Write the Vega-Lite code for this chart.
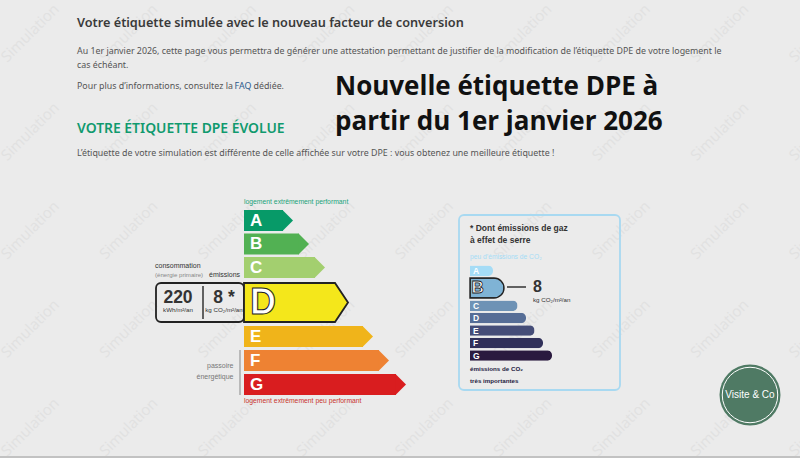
{
  "$schema": "https://vega.github.io/schema/vega-lite/v6.json",
  "description": "Nouvelle étiquette DPE à partir du 1er janvier 2026",
  "width": 800,
  "height": 458,
  "autosize": {"type": "none"},
  "padding": 0,
  "background": "#ebebeb",
  "config": {"view": {"stroke": null}},
  "datasets": {
    "filigrane": [
      {"c":0,"l":0},{"c":1,"l":0},{"c":2,"l":0},{"c":3,"l":0},{"c":4,"l":0},{"c":5,"l":0},{"c":6,"l":0},{"c":7,"l":0},{"c":8,"l":0},
      {"c":0,"l":1},{"c":1,"l":1},{"c":2,"l":1},{"c":3,"l":1},{"c":4,"l":1},{"c":5,"l":1},{"c":6,"l":1},{"c":7,"l":1},{"c":8,"l":1},
      {"c":0,"l":2},{"c":1,"l":2},{"c":2,"l":2},{"c":3,"l":2},{"c":4,"l":2},{"c":5,"l":2},{"c":6,"l":2},{"c":7,"l":2},{"c":8,"l":2},
      {"c":0,"l":3},{"c":1,"l":3},{"c":2,"l":3},{"c":3,"l":3},{"c":4,"l":3},{"c":5,"l":3},{"c":6,"l":3},{"c":7,"l":3},{"c":8,"l":3},
      {"c":0,"l":4},{"c":1,"l":4},{"c":2,"l":4},{"c":3,"l":4},{"c":4,"l":4},{"c":5,"l":4},{"c":6,"l":4},{"c":7,"l":4},{"c":8,"l":4}
    ],
    "energie": [
      {"classe":"A","rang":0,"corps":39},
      {"classe":"B","rang":1,"corps":55},
      {"classe":"C","rang":2,"corps":71},
      {"classe":"D","rang":3,"corps":91},
      {"classe":"E","rang":4,"corps":119},
      {"classe":"F","rang":5,"corps":135},
      {"classe":"G","rang":6,"corps":152}
    ],
    "climat": [
      {"classe":"A","rang":0,"longueur":23},
      {"classe":"B","rang":1,"longueur":34},
      {"classe":"C","rang":2,"longueur":47.5},
      {"classe":"D","rang":3,"longueur":56},
      {"classe":"E","rang":4,"longueur":64.5},
      {"classe":"F","rang":5,"longueur":73},
      {"classe":"G","rang":6,"longueur":82}
    ],
    "textes": [
      {"groupe":"titre","colonne":1,"ligne":0,"texte":"Votre étiquette simulée avec le nouveau facteur de conversion"},
      {"groupe":"corps","colonne":1,"ligne":1,"texte":"Au 1er janvier 2026, cette page vous permettra de générer une attestation permettant de justifier de la modification de l’étiquette DPE de votre logement le"},
      {"groupe":"corps","colonne":1,"ligne":2,"texte":"cas échéant."},
      {"groupe":"corps","colonne":1,"ligne":3,"texte":"Pour plus d’informations, consultez la"},
      {"groupe":"faq","colonne":8,"ligne":3,"texte":"FAQ"},
      {"groupe":"corps","colonne":11,"ligne":3,"texte":"dédiée."},
      {"groupe":"grand","colonne":12,"ligne":3,"texte":"Nouvelle étiquette DPE à"},
      {"groupe":"grand","colonne":12,"ligne":4,"texte":"partir du 1er janvier 2026"},
      {"groupe":"vert","colonne":1,"ligne":5,"texte":"VOTRE ÉTIQUETTE DPE ÉVOLUE"},
      {"groupe":"corps","colonne":1,"ligne":6,"texte":"L’étiquette de votre simulation est différente de celle affichée sur votre DPE : vous obtenez une meilleure étiquette !"},
      {"groupe":"haut","colonne":10,"ligne":7,"texte":"logement extrêmement performant"},
      {"groupe":"bas","colonne":10,"ligne":29,"texte":"logement extrêmement peu performant"},
      {"groupe":"noir","colonne":2,"ligne":12,"texte":"consommation"},
      {"groupe":"gris","colonne":2,"ligne":13,"texte":"(énergie primaire)"},
      {"groupe":"noir","colonne":6,"ligne":13,"texte":"émissions"},
      {"groupe":"chiffre","colonne":4,"ligne":17,"texte":"220"},
      {"groupe":"chiffre","colonne":7,"ligne":17,"texte":"8 *"},
      {"groupe":"unite","colonne":4,"ligne":19,"texte":"kWh/m²/an"},
      {"groupe":"unite","colonne":7,"ligne":19,"texte":"kg CO₂/m²/an"},
      {"groupe":"passoire","colonne":8,"ligne":23,"texte":"passoire"},
      {"groupe":"passoire","colonne":8,"ligne":25,"texte":"énergétique"},
      {"groupe":"encadre","colonne":14,"ligne":9,"texte":"* Dont émissions de gaz"},
      {"groupe":"encadre","colonne":14,"ligne":10,"texte":"à effet de serre"},
      {"groupe":"peu","colonne":14,"ligne":11,"texte":"peu d’émissions de CO₂"},
      {"groupe":"valeur","colonne":17,"ligne":16,"texte":"8"},
      {"groupe":"uniteb","colonne":17,"ligne":18,"texte":"kg CO₂/m²/an"},
      {"groupe":"fort","colonne":14,"ligne":24,"texte":"émissions de CO₂"},
      {"groupe":"fort","colonne":14,"ligne":26,"texte":"très importantes"},
      {"groupe":"pastille","colonne":19,"ligne":28,"texte":"Visite & Co"}
    ],
    "cadres": [
      {"nom":"encadré","colonne":13,"colonne2":18,"ligne":8,"ligne2":27},
      {"nom":"valeurs","colonne":3,"colonne2":10,"ligne":14,"ligne2":21}
    ],
    "filets": [
      {"nom":"séparateur","colonne":5,"colonne2":5,"ligne":15,"ligne2":20},
      {"nom":"passoire","colonne":9,"colonne2":9,"ligne":22,"ligne2":28},
      {"nom":"repère","colonne":15,"colonne2":16,"ligne":16,"ligne2":16},
      {"nom":"bas de page","colonne":0,"colonne2":20,"ligne":30,"ligne2":30}
    ],
    "pastille": [
      {"colonne":19,"ligne":28}
    ]
  },
  "resolve": {"scale": {"x": "independent", "y": "independent", "color": "independent", "stroke": "independent"}},
  "layer": [
    {
      "data": {"name": "filigrane"},
      "mark": {"type": "text", "angle": -45, "font": "Open Sans", "fontSize": 15, "color": "#e1e1e1", "align": "center", "baseline": "middle", "text": "Simulation"},
      "encoding": {
        "x": {"field": "c", "type": "quantitative", "axis": null, "scale": {"domain": [0, 8], "range": [30, 818], "zero": false, "nice": false}},
        "y": {"field": "l", "type": "quantitative", "axis": null, "scale": {"domain": [0, 4], "range": [33, 427], "zero": false, "nice": false}}
      }
    },
    {
      "data": {"name": "cadres"},
      "mark": {"type": "rect", "filled": false, "cornerRadius": 5, "strokeWidth": 1.8},
      "encoding": {
        "x": {"field": "colonne", "type": "quantitative", "axis": null, "scale": {"domain": [0,1,2,3,4,5,6,7,8,9,10,11,12,13,14,15,16,17,18,19,20], "range": [0,77,155,156,178,203,209,224,233.5,240,244,253.5,335,459,470,507,526,533,620,750,800], "zero": false, "nice": false}},
        "x2": {"field": "colonne2"},
        "y": {"field": "ligne", "type": "quantitative", "axis": null, "scale": {"domain": [0,1,2,3,4,5,6,7,8,9,10,11,12,13,14,15,16,17,18,19,20,21,22,23,24,25,26,27,28,29,30], "range": [22,50,64,85,120,127,152,202,215,228,240,257,266,275,283,286,287,297,300,310,319,322,350,366,369,377,381,390,395,401,457], "zero": false, "nice": false}},
        "y2": {"field": "ligne2"},
        "stroke": {"field": "nom", "type": "nominal", "legend": null, "scale": {"domain": ["encadré", "valeurs"], "range": ["#a8d9f1", "#222222"]}}
      }
    },
    {
      "data": {"name": "filets"},
      "mark": {"type": "rule", "strokeWidth": 1.5},
      "encoding": {
        "x": {"field": "colonne", "type": "quantitative", "axis": null, "scale": {"domain": [0,1,2,3,4,5,6,7,8,9,10,11,12,13,14,15,16,17,18,19,20], "range": [0,77,155,156,178,203,209,224,233.5,240,244,253.5,335,459,470,507,526,533,620,750,800], "zero": false, "nice": false}},
        "x2": {"field": "colonne2"},
        "y": {"field": "ligne", "type": "quantitative", "axis": null, "scale": {"domain": [0,1,2,3,4,5,6,7,8,9,10,11,12,13,14,15,16,17,18,19,20,21,22,23,24,25,26,27,28,29,30], "range": [22,50,64,85,120,127,152,202,215,228,240,257,266,275,283,286,287,297,300,310,319,322,350,366,369,377,381,390,395,401,457], "zero": false, "nice": false}},
        "y2": {"field": "ligne2"},
        "color": {"field": "nom", "type": "nominal", "legend": null, "scale": {"domain": ["séparateur", "passoire", "repère", "bas de page"], "range": ["#333333", "#a9a9a9", "#333333", "#b5b5b5"]}}
      }
    },
    {
      "data": {"name": "energie"},
      "encoding": {
        "x": {"field": "corps", "type": "quantitative", "axis": null, "scale": {"domain": [0, 162], "range": [244, 406], "zero": false, "nice": false}},
        "y": {"field": "rang", "type": "quantitative", "axis": null, "scale": {"domain": [0,1,2,3,4,5,6], "range": [220.5,244,267.5,302.5,336.5,360.5,384.5], "zero": false, "nice": false, "padding": 0}},
        "color": {"field": "classe", "type": "nominal", "legend": null, "scale": {"domain": ["A","B","C","D","E","F","G"], "range": ["#079a68","#52b153","#a3cf6f","#f4e71b","#f0b41a","#ee8233","#d91d1f"]}}
      },
      "layer": [
        {"mark": {"type": "bar", "orient": "horizontal", "size": 21}},
        {
          "transform": [{"filter": "datum.classe !== 'D'"}],
          "mark": {"type": "point", "filled": true, "opacity": 1, "size": 441, "strokeWidth": 0, "shape": "M-.05,-1L.95,0L-.05,1Z"}
        },
        {
          "transform": [{"filter": "datum.classe === 'D'"}],
          "mark": {"type": "point", "filled": true, "opacity": 1, "size": 4, "stroke": "#222222", "strokeWidth": 1.8, "shape": "M0,-19.5H91L104,0L91,19.5H0Z"},
          "encoding": {"x": {"datum": 0, "type": "quantitative"}}
        },
        {
          "transform": [{"filter": "datum.classe !== 'D'"}],
          "mark": {"type": "text", "align": "left", "baseline": "middle", "font": "Liberation Sans", "fontWeight": "bold", "fontSize": 17, "color": "#ffffff"},
          "encoding": {"x": {"datum": 6, "type": "quantitative"}, "text": {"field": "classe"}, "color": {"value": "#ffffff"}}
        },
        {
          "transform": [{"filter": "datum.classe === 'D'"}],
          "mark": {"type": "text", "align": "left", "baseline": "middle", "font": "Liberation Sans", "fontWeight": "bold", "fontSize": 36, "stroke": "#222222", "strokeWidth": 1},
          "encoding": {"x": {"datum": 6, "type": "quantitative"}, "text": {"field": "classe"}, "color": {"value": "#ffffff"}}
        }
      ]
    },
    {
      "data": {"name": "climat"},
      "encoding": {
        "x": {"field": "longueur", "type": "quantitative", "axis": null, "scale": {"domain": [0, 82], "range": [470, 552], "zero": false, "nice": false}},
        "y": {"field": "rang", "type": "quantitative", "axis": null, "scale": {"domain": [0,1,2,3,4,5,6], "range": [270.7,288,305.8,318,330.5,343,355.5], "zero": false, "nice": false, "padding": 0}},
        "color": {"field": "classe", "type": "nominal", "legend": null, "scale": {"domain": ["A","B","C","D","E","F","G"], "range": ["#a5dcf6","#7fb3d5","#6e92b5","#566d96","#454d78","#30305a","#2a1a3f"]}}
      },
      "layer": [
        {
          "transform": [{"filter": "datum.classe !== 'B'"}],
          "mark": {"type": "bar", "orient": "horizontal", "size": 10.5, "cornerRadiusEnd": 5}
        },
        {
          "transform": [{"filter": "datum.classe === 'B'"}],
          "mark": {"type": "bar", "orient": "horizontal", "size": 20, "cornerRadiusEnd": 10, "stroke": "#222222", "strokeWidth": 1.4}
        },
        {
          "transform": [{"filter": "datum.classe !== 'B'"}],
          "mark": {"type": "text", "align": "left", "baseline": "middle", "font": "Liberation Sans", "fontWeight": "bold", "fontSize": 8.5},
          "encoding": {"x": {"datum": 3, "type": "quantitative"}, "text": {"field": "classe"}, "color": {"value": "#ffffff"}}
        },
        {
          "transform": [{"filter": "datum.classe === 'B'"}],
          "mark": {"type": "text", "align": "left", "baseline": "middle", "font": "Liberation Sans", "fontWeight": "bold", "fontSize": 17, "stroke": "#222222", "strokeWidth": 0.8},
          "encoding": {"x": {"datum": 1.5, "type": "quantitative"}, "text": {"field": "classe"}, "color": {"value": "#ffffff"}}
        }
      ]
    },
    {
      "data": {"name": "pastille"},
      "encoding": {
        "x": {"field": "colonne", "type": "quantitative", "axis": null, "scale": {"domain": [0,1,2,3,4,5,6,7,8,9,10,11,12,13,14,15,16,17,18,19,20], "range": [0,77,155,156,178,203,209,224,233.5,240,244,253.5,335,459,470,507,526,533,620,750,800], "zero": false, "nice": false}},
        "y": {"field": "ligne", "type": "quantitative", "axis": null, "scale": {"domain": [0,1,2,3,4,5,6,7,8,9,10,11,12,13,14,15,16,17,18,19,20,21,22,23,24,25,26,27,28,29,30], "range": [22,50,64,85,120,127,152,202,215,228,240,257,266,275,283,286,287,297,300,310,319,322,350,366,369,377,381,390,395,401,457], "zero": false, "nice": false}}
      },
      "layer": [
        {"mark": {"type": "point", "shape": "circle", "filled": true, "opacity": 1, "size": 3720, "color": "#4f7a64"}},
        {"mark": {"type": "point", "shape": "circle", "filled": false, "opacity": 1, "size": 3080, "color": "#ffffff", "strokeWidth": 1}}
      ]
    },
    {
      "data": {"name": "textes"},
      "encoding": {
        "x": {"field": "colonne", "type": "quantitative", "axis": null, "scale": {"domain": [0,1,2,3,4,5,6,7,8,9,10,11,12,13,14,15,16,17,18,19,20], "range": [0,77,155,156,178,203,209,224,233.5,240,244,253.5,335,459,470,507,526,533,620,750,800], "zero": false, "nice": false}},
        "y": {"field": "ligne", "type": "quantitative", "axis": null, "scale": {"domain": [0,1,2,3,4,5,6,7,8,9,10,11,12,13,14,15,16,17,18,19,20,21,22,23,24,25,26,27,28,29,30], "range": [22,50,64,85,120,127,152,202,215,228,240,257,266,275,283,286,287,297,300,310,319,322,350,366,369,377,381,390,395,401,457], "zero": false, "nice": false}},
        "text": {"field": "texte"}
      },
      "layer": [
        {"transform": [{"filter": "datum.groupe === 'titre'"}], "mark": {"type": "text", "align": "left", "baseline": "middle", "dy": 1, "font": "Noto Sans", "fontWeight": 600, "fontSize": 12.7, "color": "#3a3a3a"}},
        {"transform": [{"filter": "datum.groupe === 'corps'"}], "mark": {"type": "text", "align": "left", "baseline": "middle", "dy": 1, "font": "Noto Sans", "fontSize": 8.85, "color": "#555555"}},
        {"transform": [{"filter": "datum.groupe === 'faq'"}], "mark": {"type": "text", "align": "left", "baseline": "middle", "dy": 1, "dx": 1, "font": "Noto Sans", "fontSize": 8.85, "color": "#2a5a8c"}},
        {"transform": [{"filter": "datum.groupe === 'vert'"}], "mark": {"type": "text", "align": "left", "baseline": "middle", "dy": 2, "font": "Noto Sans", "fontWeight": 600, "fontSize": 13.9, "color": "#109a6e"}},
        {"transform": [{"filter": "datum.groupe === 'grand'"}], "mark": {"type": "text", "align": "left", "baseline": "middle", "dy": 2, "font": "Open Sans", "fontWeight": "bold", "fontSize": 26, "color": "#111111"}},
        {"transform": [{"filter": "datum.groupe === 'haut'"}], "mark": {"type": "text", "align": "left", "baseline": "middle", "font": "Liberation Sans", "fontSize": 6.8, "color": "#1aa37a"}},
        {"transform": [{"filter": "datum.groupe === 'bas'"}], "mark": {"type": "text", "align": "left", "baseline": "middle", "font": "Liberation Sans", "fontSize": 6.8, "color": "#c8352f"}},
        {"transform": [{"filter": "datum.groupe === 'noir'"}], "mark": {"type": "text", "align": "left", "baseline": "middle", "font": "Liberation Sans", "fontSize": 7, "color": "#333333"}},
        {"transform": [{"filter": "datum.groupe === 'gris'"}], "mark": {"type": "text", "align": "left", "baseline": "middle", "font": "Liberation Sans", "fontSize": 6.1, "color": "#888888"}},
        {"transform": [{"filter": "datum.groupe === 'chiffre'"}], "mark": {"type": "text", "align": "center", "baseline": "middle", "dy": 1, "font": "Liberation Sans", "fontWeight": "bold", "fontSize": 17.5, "color": "#333333"}},
        {"transform": [{"filter": "datum.groupe === 'unite'"}], "mark": {"type": "text", "align": "center", "baseline": "middle", "font": "Liberation Sans", "fontSize": 6.2, "color": "#333333"}},
        {"transform": [{"filter": "datum.groupe === 'passoire'"}], "mark": {"type": "text", "align": "right", "baseline": "middle", "font": "Liberation Sans", "fontSize": 7, "color": "#777777"}},
        {"transform": [{"filter": "datum.groupe === 'encadre'"}], "mark": {"type": "text", "align": "left", "baseline": "middle", "font": "Liberation Sans", "fontWeight": "bold", "fontSize": 8.5, "color": "#333333"}},
        {"transform": [{"filter": "datum.groupe === 'peu'"}], "mark": {"type": "text", "align": "left", "baseline": "middle", "font": "Liberation Sans", "fontSize": 6.7, "color": "#a5dcf6"}},
        {"transform": [{"filter": "datum.groupe === 'valeur'"}], "mark": {"type": "text", "align": "left", "baseline": "middle", "font": "Liberation Sans", "fontWeight": "bold", "fontSize": 16, "color": "#333333"}},
        {"transform": [{"filter": "datum.groupe === 'uniteb'"}], "mark": {"type": "text", "align": "left", "baseline": "middle", "font": "Liberation Sans", "fontSize": 6.2, "color": "#333333"}},
        {"transform": [{"filter": "datum.groupe === 'fort'"}], "mark": {"type": "text", "align": "left", "baseline": "middle", "font": "Liberation Sans", "fontWeight": "bold", "fontSize": 6.2, "color": "#1e1a3f"}},
        {"transform": [{"filter": "datum.groupe === 'pastille'"}], "mark": {"type": "text", "align": "center", "baseline": "middle", "font": "Liberation Sans", "fontSize": 10, "color": "#ffffff"}}
      ]
    }
  ]
}
